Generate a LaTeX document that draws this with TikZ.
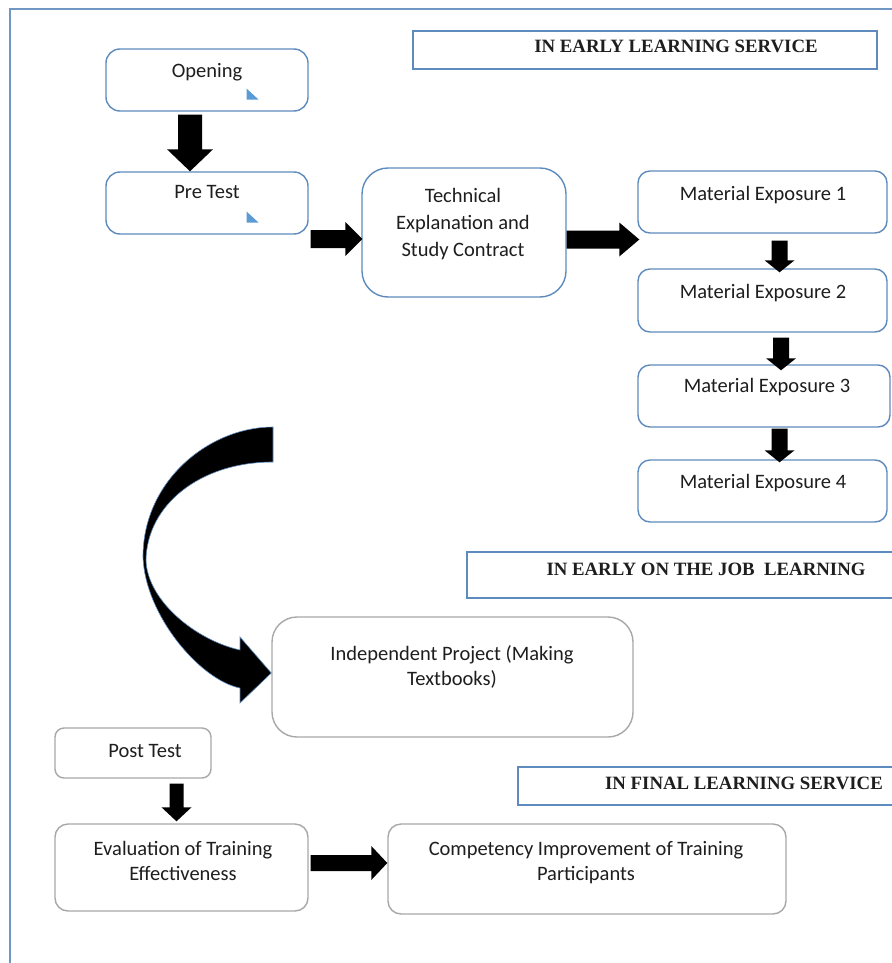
\documentclass[tikz,border=0pt]{standalone}
\usepackage{fontspec}
\setmainfont{Carlito}
\newfontfamily\titlefont{Liberation Serif}
\usetikzlibrary{calc}
\definecolor{boxblue}{HTML}{5E8BBE}
\definecolor{frameblue}{HTML}{7096C4}
\definecolor{boxgray}{HTML}{A8A8A8}
\definecolor{tricol}{HTML}{5B9BD5}
\definecolor{txtc}{HTML}{1E1E1E}

\newcommand\blockdown[5]{%
  \path[blockarrow] let \p1=(#1), \p2=(#2) in
    (\x2-#3pt,\y1) -- (\x2+#3pt,\y1) -- (\x2+#3pt,\y2+#5pt) -- (\x2+#4pt,\y2+#5pt)
    -- (\x2,\y2) -- (\x2-#4pt,\y2+#5pt) -- (\x2-#3pt,\y2+#5pt) -- cycle;}
\newcommand\blockright[5]{%
  \path[blockarrow] let \p1=(#1), \p2=(#2) in
    (\x1,\y2+#3pt) -- (\x2-#5pt,\y2+#3pt) -- (\x2-#5pt,\y2+#4pt) -- (\x2,\y2)
    -- (\x2-#5pt,\y2-#4pt) -- (\x2-#5pt,\y2-#3pt) -- (\x1,\y2-#3pt) -- cycle;}

\begin{document}
\begin{tikzpicture}[x=1pt,y=-1pt,
  bbox/.style={draw=boxblue, line width=1.4pt, rounded corners=#1, inner sep=0pt},
  gbox/.style={draw=boxgray, line width=1.4pt, rounded corners=#1, inner sep=0pt},
  tbox/.style={draw=boxblue, line width=1.8pt, inner sep=0pt},
  txt/.style={text=txtc, font=\fontsize{20.5}{25}\selectfont, inner sep=0pt, anchor=base, align=center},
  ttl/.style={text=txtc, font=\titlefont\bfseries\fontsize{18.8}{22}\selectfont, inner sep=0pt, anchor=base},
  blockarrow/.style={fill=black},
]
\useasboundingbox (0,0) rectangle (891,963);
\fill[white] (0,0) rectangle (891,963);

% frame
\draw[frameblue, line width=1.8pt] (10,975) -- (10,9) -- (905,9);

% title boxes
\node[tbox, minimum width=464pt, minimum height=38pt] (t1) at (645,50) {};
\node[tbox, minimum width=438pt, minimum height=46pt] (t2) at (686,575) {};
\node[tbox, minimum width=387pt, minimum height=38pt] (t3) at (711.5,786) {};
\node[ttl] (t1t) at (676,53) {IN EARLY LEARNING SERVICE};
\node[ttl] (t2t) at (706,575) {IN EARLY ON THE JOB~~LEARNING};
\node[ttl] (t3t) at (744,789) {IN FINAL LEARNING SERVICE};

% boxes
\node[bbox=14pt, minimum width=202pt, minimum height=62pt] (open) at (207,80) {};
\node[bbox=14pt, minimum width=202pt, minimum height=62pt] (pre) at (207,203) {};
\node[bbox=26pt, minimum width=204pt, minimum height=129pt] (tech) at (464,232.5) {};
\node[bbox=12pt, minimum width=249pt, minimum height=62pt] (me1) at (762.5,202) {};
\node[bbox=12pt, minimum width=249pt, minimum height=63pt] (me2) at (762.5,300.5) {};
\node[bbox=12pt, minimum width=252pt, minimum height=62pt] (me3) at (764,396) {};
\node[bbox=12pt, minimum width=249pt, minimum height=62pt] (me4) at (762.5,491) {};
\node[gbox=25pt, minimum width=361pt, minimum height=120pt] (ind) at (452.5,677) {};
\node[gbox=9pt, minimum width=156pt, minimum height=50pt] (post) at (133,753) {};
\node[gbox=13pt, minimum width=253pt, minimum height=87pt] (eval) at (181.5,867.5) {};
\node[gbox=13pt, minimum width=398pt, minimum height=90pt] (comp) at (587,869) {};

% triangles
\fill[tricol] ($(open.south east)+(-62,-23)$) -- ++(0,11) -- ++(12,0) -- cycle;
\fill[tricol] ($(pre.south east)+(-62,-23)$) -- ++(0,11) -- ++(12,0) -- cycle;

% texts (base anchor = baseline of last line)
\node[txt] (open-t) at (207,78) {Opening};
\node[txt] (pre-t) at (207,198) {Pre Test};
\node[txt, font=\fontsize{20.5}{27}\selectfont] (tech-t) at (463,256) {Technical\\Explanation and\\Study Contract};
\node[txt] (me1-t) at (763,200) {Material Exposure 1};
\node[txt] (me2-t) at (763,298) {Material Exposure 2};
\node[txt] (me3-t) at (767,392) {Material Exposure 3};
\node[txt] (me4-t) at (763,488) {Material Exposure 4};
\node[txt] (ind-t) at (452,685) {Independent Project (Making\\Textbooks)};
\node[txt] (post-t) at (145,757) {Post Test};
\node[txt] (eval-t) at (183,880) {Evaluation of Training\\Effectiveness};
\node[txt] (comp-t) at (586,880) {Competency Improvement of Training\\Participants};

% block arrows
\blockdown{$(open.south)+(-17,3)$}{$(pre.north)+(-17,0)$}{12}{23}{22}
\blockright{$(pre.east)+(2,0)$}{$(tech.west)+(1,6.5)$}{9}{17}{17}
\blockright{$(tech.east)+(0,0)$}{$(me1.west)+(2,37.5)$}{9}{17}{20}
\blockdown{$(me1.south)+(17,7)$}{$(me2.north)+(17,4)$}{8}{15}{12}
\blockdown{$(me2.south)+(17,5)$}{$(me3.north)+(17,6)$}{8}{15}{12}
\blockdown{$(me3.south)+(17,1)$}{$(me4.north)+(17,3)$}{8}{15}{12}
\blockdown{$(post.south)+(-5,5)$}{$(eval.north)+(-5,-2)$}{7}{15}{14}
\blockright{$(eval.east)+(2,0)$}{$(comp.west)+(0,-6)$}{8}{17}{16}

% curved arrow
\coordinate (ctip) at ($(ind.west)+(0,-4)$);
\path[fill=black, draw=boxblue, line width=0.6pt]
  (273,427) .. controls (210,427) and (143,480) .. (143,557)
  .. controls (145,615) and (200,680) .. (240,688)
  -- (240,703) -- (ctip) -- (240,637) -- (240,650)
  .. controls (195,640) and (147,600) .. (146,560)
  .. controls (147,505) and (200,462) .. (273,462) -- cycle;
\end{tikzpicture}
\end{document}
